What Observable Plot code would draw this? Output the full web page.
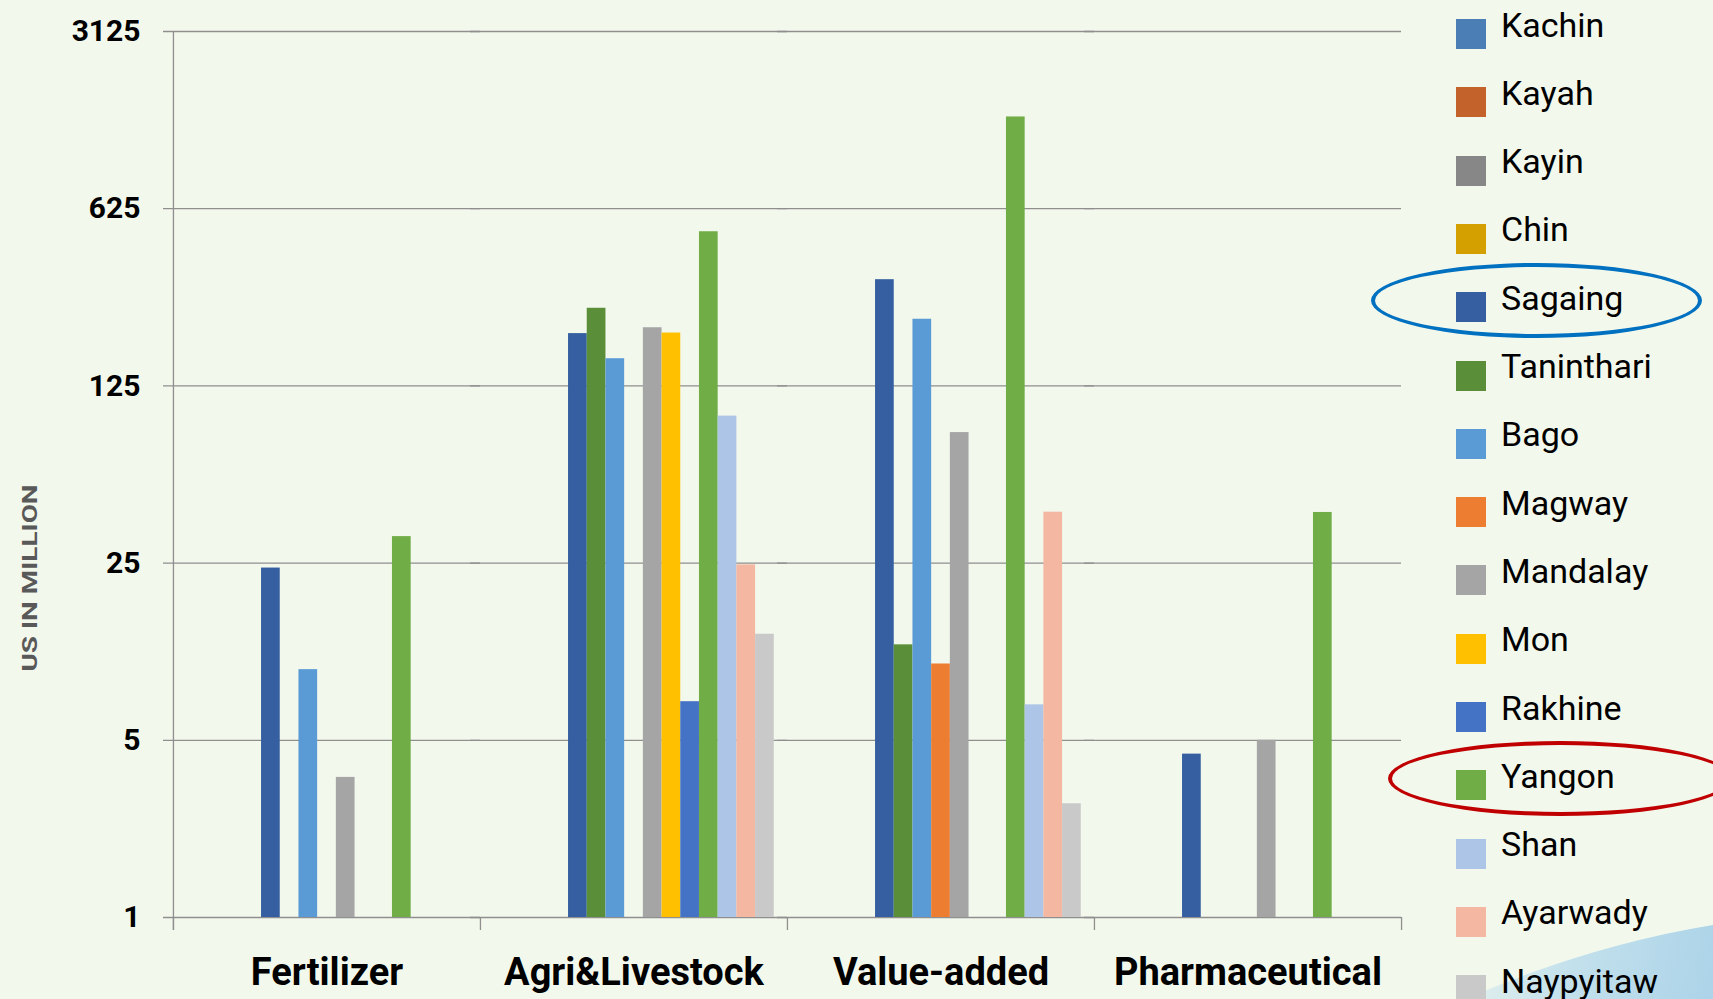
<!DOCTYPE html>
<html>
<head>
<meta charset="utf-8">
<script src="https://cdn.jsdelivr.net/npm/d3@7"></script>
<script src="https://cdn.jsdelivr.net/npm/@observablehq/plot@0.6"></script>
<style>
  html, body { margin: 0; padding: 0; width: 1713px; height: 999px; overflow: hidden; background: #F3F8EC; font-family: Roboto, sans-serif; }
  #swoosh { position: absolute; left: 0; top: 0; width: 1713px; height: 999px;
    background: linear-gradient(100deg, rgba(200,228,240,0) 0%, rgba(200,228,240,0) 84%, rgba(175,215,236,0.7) 92%, rgba(160,205,232,0.85) 100%);
    clip-path: path('M1465 999 Q1590 945 1713 925 L1713 999 Z'); }
  #chart { position: absolute; left: 0; top: 0; }
  #ylabel { position: absolute; left: 30px; top: 578px; transform: translate(-50%, -50%) rotate(-90deg) scale(1.55, 1.08);
    font: bold 18px Roboto, sans-serif; color: #595959; white-space: nowrap; }
  .lg-sq { position: absolute; width: 30px; height: 30px; }
  .lg-tx { position: absolute; font: 34px/1 Roboto, sans-serif; color: #000; white-space: nowrap; }
  .ell { position: absolute; box-sizing: border-box; border-radius: 50%; border: 4px solid; }
</style>
</head>
<body>
<div id="swoosh"></div>
<div id="chart"></div>
<div id="ylabel">US IN MILLION</div>
<div id="legend"></div>
<script>
// ---- data ----
const categories = ["Fertilizer", "Agri&Livestock", "Value-added", "Pharmaceutical"];
const series = ["Kachin", "Kayah", "Kayin", "Chin", "Sagaing", "Taninthari", "Bago", "Magway",
                "Mandalay", "Mon", "Rakhine", "Yangon", "Shan", "Ayarwady", "Naypyitaw"];
const colors = ["#4A7EB5", "#C4622B", "#878787", "#D4A000", "#355FA0", "#5A8E38", "#5B9BD5", "#ED7D31",
                "#A5A5A5", "#FFC000", "#4472C4", "#70AD47", "#ADC5E6", "#F3B7A2", "#C9C9C9"];
const yTicks = [1, 5, 25, 125, 625, 3125];

// values per region, in category order (null = no bar)
const kachin     = [null, null, null, null];
const kayah      = [null, null, null, null];
const kayin      = [null, null, null, null];
const chin       = [null, null, null, null];
const sagaing    = [23.9, 201, 328, 4.41];
const taninthari = [null, 253, 11.9, null];
const bago       = [9.5, 160, 229, null];
const magway     = [null, null, 10.0, null];
const mandalay   = [3.57, 212, 81.8, 5.0];
const mon        = [null, 202, null, null];
const rakhine    = [null, 7.1, null, null];
const yangon     = [31.8, 507, 1438, 39.6];
const shan       = [null, 95, 6.9, null];
const ayarwady   = [null, 24.6, 39.7, null];
const naypyitaw  = [null, 13.1, 2.81, null];

const valuesBySeries = [kachin, kayah, kayin, chin, sagaing, taninthari, bago, magway,
                        mandalay, mon, rakhine, yangon, shan, ayarwady, naypyitaw];

const table = [];
series.forEach((s, i) => {
  categories.forEach((c, j) => {
    const v = valuesBySeries[i][j];
    if (v != null) table.push({category: c, series: s, value: v});
  });
});

// ---- layout ----
const W = 1420, H = 999, mL = 171, mR = 18, mT = 31, mB = 82;
const po = 0.707;
const facetW = (W - mL - mR) / categories.length;
const step = facetW / (series.length + 2 * po);
const edgeOffset = (0.5 + po) * step;
const axisColor = "#8f8f8f";

const chart = Plot.plot({
  width: W, height: H,
  marginLeft: mL, marginRight: mR, marginTop: mT, marginBottom: mB,
  style: {background: "transparent", fontFamily: "Roboto, sans-serif", fontWeight: "bold", color: "#000", overflow: "visible"},
  fx: {domain: categories, padding: 0, label: null},
  x: {domain: series, paddingInner: 0, paddingOuter: po, round: false, axis: null},
  y: {type: "log", base: 5, domain: [1, 3125], label: null},
  color: {domain: series, range: colors},
  marks: [
    Plot.gridY({ticks: yTicks, stroke: axisColor, strokeOpacity: 1, strokeWidth: 1.3, insetLeft: -10}),
    Plot.barY(table, {fx: "category", x: "series", y1: 1, y2: "value", fill: "series"}),
    Plot.ruleX(categories.map(c => ({category: c})), {fx: "category", x: () => series[0], dx: -edgeOffset, y1: 1, y2: 1, insetBottom: -13, stroke: axisColor, strokeWidth: 1.3}),
    Plot.ruleX([{category: categories[0]}], {fx: "category", x: () => series[0], dx: -edgeOffset, y1: 3125, y2: 1, insetBottom: -13, stroke: axisColor, strokeWidth: 1.3}),
    Plot.ruleX([{category: categories[categories.length - 1]}], {fx: "category", x: () => series[series.length - 1], dx: edgeOffset, y1: 1, y2: 1, insetBottom: -13, stroke: axisColor, strokeWidth: 1.3}),
    Plot.axisY({ticks: yTicks, tickSize: 0, tickPadding: 33, tickFormat: d => String(d), fontSize: 30, fontWeight: "bold", label: null}),
    Plot.axisFx({anchor: "bottom", tickSize: 0, tickPadding: 41, fontSize: 38, fontWeight: "bold", label: null})
  ]
});
document.getElementById("chart").appendChild(chart);

// ---- legend ----
const legend = document.getElementById("legend");
const rowH = 68.3, row0 = 19;
series.forEach((s, i) => {
  const top = row0 + i * rowH;
  const sq = document.createElement("div");
  sq.className = "lg-sq";
  sq.style.left = "1456px"; sq.style.top = top + "px"; sq.style.background = colors[i];
  legend.appendChild(sq);
  const tx = document.createElement("div");
  tx.className = "lg-tx";
  tx.style.left = "1501px"; tx.style.top = (top - 11.5) + "px";
  tx.textContent = s;
  legend.appendChild(tx);
});
// highlight ellipses
const highlights = [
  {name: "Sagaing", color: "#0070C0", left: 1371, width: 331},
  {name: "Yangon", color: "#C00000", left: 1388, width: 345}
];
highlights.forEach(h => {
  const i = series.indexOf(h.name);
  const top = row0 + i * rowH;
  const e = document.createElement("div");
  e.className = "ell";
  e.style.left = h.left + "px"; e.style.top = (top - 29) + "px";
  e.style.width = h.width + "px"; e.style.height = "75px";
  e.style.borderColor = h.color;
  legend.appendChild(e);
});
</script>
</body>
</html>
